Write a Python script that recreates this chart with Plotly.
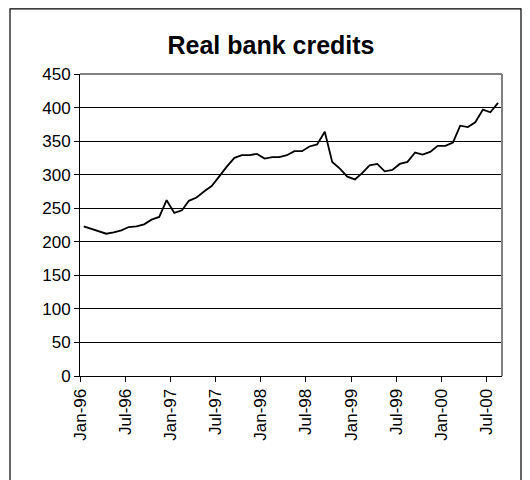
import pandas as pd
import plotly.graph_objects as go

# Monthly values, Jan-96 .. Aug-00
start_month = "1996-01-01"
credits = [
    223, 219, 215, 212, 214, 217, 222, 223, 226, 233, 237, 262,
    243, 247, 261, 266, 275, 283, 297, 312, 325, 329, 329, 331,
    324, 326, 326, 329, 335, 335, 342, 345, 364, 319, 309, 297,
    293, 303, 314, 316, 305, 307, 316, 319, 333, 330, 334, 343,
    343, 348, 373, 371, 378, 397, 393, 407,
]
months = pd.date_range(start_month, periods=len(credits), freq="MS")
x_dates = months + pd.Timedelta(days=15)
axis_end = months[-1] + pd.DateOffset(months=1)

title_text = "Real bank credits"
font_family = "Liberation Sans, Arial, sans-serif"

# figure sits 8px in from page top-left (body margin)
W, H = 522, 472
L, R, T, B = 72, 28, 66, 104
pw, ph = W - L - R, H - T - B

fig = go.Figure()
fig.add_trace(go.Scatter(
    x=x_dates, y=credits, mode="lines",
    line=dict(color="black", width=1.8),
    hoverinfo="x+y", showlegend=False,
))

fig.update_layout(
    width=W, height=H,
    margin=dict(l=L, r=R, t=T, b=B),
    paper_bgcolor="white", plot_bgcolor="white",
    font=dict(family=font_family, size=17, color="black"),
    title=dict(text="<b>" + title_text + "</b>", x=263 / W, xref="container", xanchor="center",
               y=1 - 37 / H, yref="container", yanchor="middle",
               font=dict(size=25, family=font_family, color="black")),
    xaxis=dict(
        type="date", range=[months[0], axis_end],
        tick0=start_month, dtick="M6", tickformat="%b-%y",
        tickangle=-90, ticks="outside", ticklen=5, tickcolor="black",
        showline=True, linecolor="black", linewidth=1,
        showgrid=False, zeroline=False,
        tickfont=dict(size=17),
    ),
    yaxis=dict(
        range=[0, 450], dtick=50, tick0=0,
        ticks="outside", ticklen=5, tickcolor="black",
        showline=True, linecolor="black", linewidth=1,
        showgrid=True, gridcolor="black", gridwidth=1,
        zeroline=False, tickfont=dict(size=17),
    ),
    shapes=[
        # plot area border (top and right), gray
        dict(type="line", xref="paper", yref="paper", x0=0, x1=1, y0=1, y1=1,
             line=dict(color="#808080", width=2)),
        dict(type="line", xref="paper", yref="paper", x0=1, x1=1, y0=0, y1=1,
             line=dict(color="#808080", width=2)),
        # outer chart border
        dict(type="rect", xref="paper", yref="paper",
             x0=(2 - L) / pw, x1=(513 - L) / pw,
             y0=(T + ph - (H + 20)) / ph, y1=(T + ph - 0.8) / ph,
             line=dict(color="black", width=1.2), fillcolor="rgba(0,0,0,0)"),
    ],
)

fig.write_html("out.html")
